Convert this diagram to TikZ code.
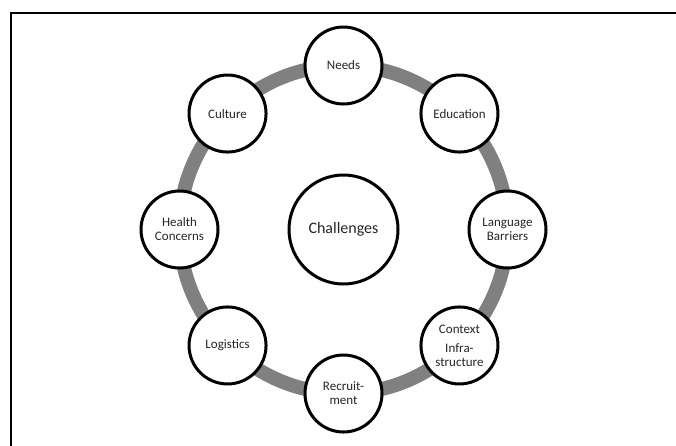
\documentclass[tikz,border=0pt]{standalone}
\usepackage{fontspec}
\setmainfont{Carlito}
\definecolor{ringgray}{RGB}{128,128,128}
\definecolor{txt}{RGB}{38,38,38}
\tikzset{
  item/.style={circle, draw=black, line width=3pt, fill=white, minimum size=77pt, inner sep=0pt,
    align=center, text=txt, font=\fontsize{13}{14}\selectfont},
  hub/.style={item, minimum size=109pt, font=\fontsize{16}{19}\selectfont},
}
\begin{document}
\begin{tikzpicture}[x=1pt,y=-1pt]
\useasboundingbox (0,0) rectangle (676,445);
\draw[line width=2pt] (11,446) -- (11,12.5) -- (677,12.5);
\coordinate (c) at (343.5,229.5);
\draw[ringgray, line width=14pt] (c) circle[radius=164];
\node[hub] (challenges) at (c) {Challenges};
\node[item] (needs) at ([shift={(-90:164)}]c) {Needs};
\node[item] (education) at ([shift={(-45:164)}]c) {Education};
\node[item] (language) at ([shift={(0:164)}]c) {Language\\Barriers};
\node[item] (context) at ([shift={(45:164)}]c) {Context\\[5pt]Infra-\\structure};
\node[item] (recruit) at ([shift={(90:164)}]c) {Recruit-\\ment};
\node[item] (logistics) at ([shift={(135:164)}]c) {Logistics};
\node[item] (health) at ([shift={(180:164)}]c) {Health\\Concerns};
\node[item] (culture) at ([shift={(-135:164)}]c) {Culture};
\end{tikzpicture}
\end{document}
